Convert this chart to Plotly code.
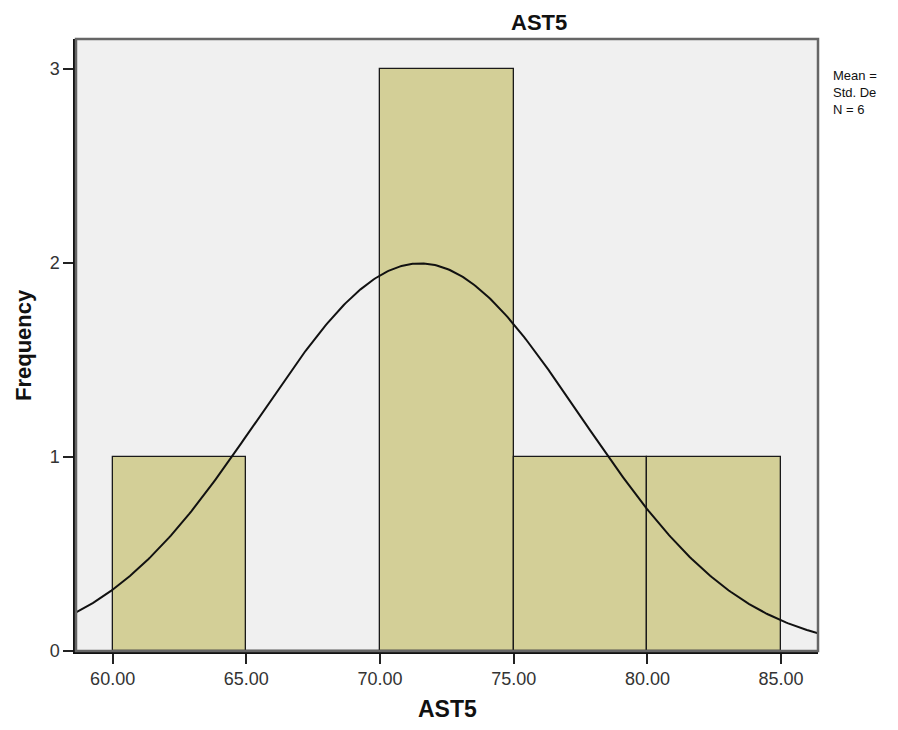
import numpy as np
import plotly.graph_objects as go

# Data
bin_edges = [60, 65, 70, 75, 80, 85]
counts = [1, 0, 3, 1, 1]
mean_val = 71.50
std_val = 5.99
n_obs = 6
x_ticks = [60, 65, 70, 75, 80, 85]
y_ticks = [0, 1, 2, 3]
stats_lines = ["Mean =", "Std. De", f"N = {n_obs}"]  # as visible (clipped) in the reference

bin_w = bin_edges[1] - bin_edges[0]
centers = [(a + b) / 2 for a, b in zip(bin_edges[:-1], bin_edges[1:])]
x_range = [58.63, 86.38]

fig = go.Figure()
fig.add_trace(go.Bar(
    x=centers, y=counts, width=[bin_w] * len(counts),
    marker=dict(color="#d3cf97", line=dict(color="#1a1a1a", width=1.3)),
    hoverinfo="skip", showlegend=False,
))

xs = np.linspace(x_range[0], x_range[1], 400)
ys = n_obs * bin_w / (std_val * np.sqrt(2 * np.pi)) * np.exp(-0.5 * ((xs - mean_val) / std_val) ** 2)
fig.add_trace(go.Scatter(x=xs, y=ys, mode="lines",
                         line=dict(color="#111111", width=2),
                         hoverinfo="skip", showlegend=False))

font = "Liberation Sans, Arial, sans-serif"
fig.update_layout(
    width=890, height=722,
    margin=dict(l=68, r=80, t=31, b=79),
    paper_bgcolor="white", plot_bgcolor="#f0f0f0",
    bargap=0,
    xaxis=dict(range=x_range, tickvals=x_ticks, ticktext=[f"{v:.2f}" for v in x_ticks],
               ticks="outside", ticklen=10, tickwidth=1.6, tickcolor="#222",
               showline=True, linecolor="#111", linewidth=2.5, showgrid=False, zeroline=False,
               automargin=False,
               tickfont=dict(family=font, size=18, color="#333")),
    yaxis=dict(range=[0, 3.155], tickvals=y_ticks,
               ticks="outside", ticklen=10, tickwidth=1.6, tickcolor="#222",
               showline=True, linecolor="#111", linewidth=2.5, showgrid=False, zeroline=False,
               automargin=False,
               tickfont=dict(family=font, size=18, color="#333")),
)
fig.add_shape(type="rect", xref="paper", yref="paper", x0=0, y0=0, x1=1, y1=1,
              line=dict(color="#666", width=2.5), layer="above")

# chart title (centred over the whole chart incl. statistics box, as in SPSS)
fig.add_annotation(xref="paper", yref="paper", x=(539 - 76) / 742, y=(651 - 22) / 612,
                   xanchor="center", yanchor="middle", showarrow=False,
                   text="<b>AST5</b>", font=dict(family=font, size=22, color="#111"))
# axis titles
fig.add_annotation(xref="paper", yref="paper", x=0.5, y=(651 - 708.5) / 612,
                   xanchor="center", yanchor="middle", showarrow=False,
                   text="<b>AST5</b>", font=dict(family=font, size=23, color="#111"))
fig.add_annotation(xref="paper", yref="paper", x=(23 - 76) / 742, y=0.5,
                   xanchor="center", yanchor="middle", showarrow=False, textangle=-90,
                   text="<b>Frequency</b>", font=dict(family=font, size=22, color="#111"))

# statistics box text
fig.add_annotation(xref="paper", yref="paper", x=(831 - 76) / 742, y=(651 - 92) / 612,
                   xanchor="left", yanchor="middle", showarrow=False, align="left",
                   text="<br>".join(stats_lines), font=dict(family=font, size=13, color="#111"))
fig.write_html("out.html")
